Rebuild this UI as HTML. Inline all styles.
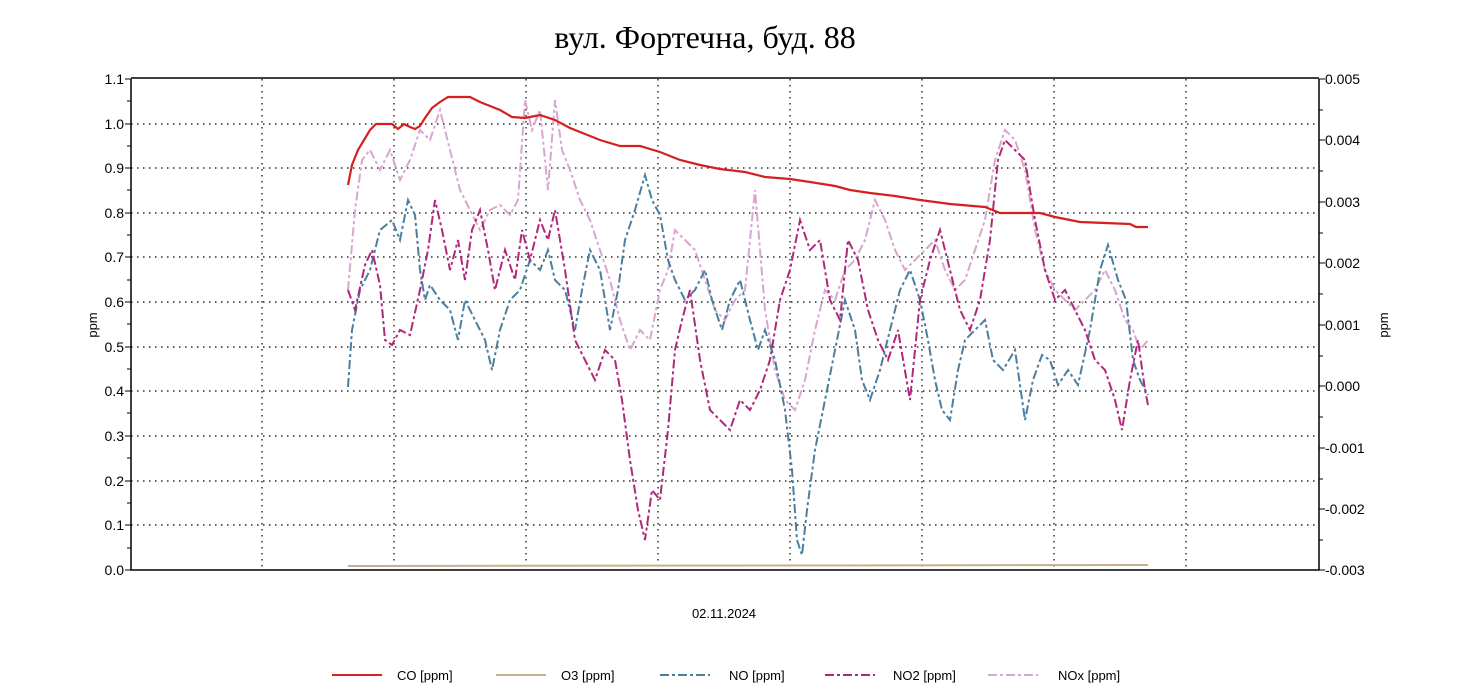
<!DOCTYPE html>
<html><head><meta charset="utf-8"><style>
body{margin:0;background:#fff;}
svg{display:block;font-family:"Liberation Sans",sans-serif;}
</style></head><body>
<svg width="1471" height="697" viewBox="0 0 1471 697">
<text x="705" y="48" text-anchor="middle" font-family="Liberation Serif,serif" font-size="32">вул. Фортечна, буд. 88</text>
<g stroke="#000" stroke-width="1.2" stroke-dasharray="1.5,4.5">
<line x1="262" y1="79" x2="262" y2="570"/><line x1="394" y1="79" x2="394" y2="570"/><line x1="526" y1="79" x2="526" y2="570"/><line x1="658" y1="79" x2="658" y2="570"/><line x1="790" y1="79" x2="790" y2="570"/><line x1="922" y1="79" x2="922" y2="570"/><line x1="1054" y1="79" x2="1054" y2="570"/><line x1="1186" y1="79" x2="1186" y2="570"/>
<line x1="131" y1="124" x2="1318" y2="124"/><line x1="131" y1="168" x2="1318" y2="168"/><line x1="131" y1="213" x2="1318" y2="213"/><line x1="131" y1="257" x2="1318" y2="257"/><line x1="131" y1="302" x2="1318" y2="302"/><line x1="131" y1="347" x2="1318" y2="347"/><line x1="131" y1="391" x2="1318" y2="391"/><line x1="131" y1="436" x2="1318" y2="436"/><line x1="131" y1="481" x2="1318" y2="481"/><line x1="131" y1="525" x2="1318" y2="525"/>
</g>
<g stroke="#000" stroke-width="1.5" fill="none">
<polyline points="131,79 131,570 1319,570 1319,79"/>
<line x1="131" y1="78" x2="1319" y2="78"/>
</g>
<g stroke="#000" stroke-width="1">
<line x1="125" y1="79" x2="131" y2="79"/><line x1="127" y1="101" x2="131" y2="101"/><line x1="125" y1="124" x2="131" y2="124"/><line x1="127" y1="146" x2="131" y2="146"/><line x1="125" y1="168" x2="131" y2="168"/><line x1="127" y1="190" x2="131" y2="190"/><line x1="125" y1="213" x2="131" y2="213"/><line x1="127" y1="235" x2="131" y2="235"/><line x1="125" y1="257" x2="131" y2="257"/><line x1="127" y1="280" x2="131" y2="280"/><line x1="125" y1="302" x2="131" y2="302"/><line x1="127" y1="324" x2="131" y2="324"/><line x1="125" y1="347" x2="131" y2="347"/><line x1="127" y1="369" x2="131" y2="369"/><line x1="125" y1="391" x2="131" y2="391"/><line x1="127" y1="413" x2="131" y2="413"/><line x1="125" y1="436" x2="131" y2="436"/><line x1="127" y1="458" x2="131" y2="458"/><line x1="125" y1="481" x2="131" y2="481"/><line x1="127" y1="503" x2="131" y2="503"/><line x1="125" y1="525" x2="131" y2="525"/><line x1="127" y1="548" x2="131" y2="548"/><line x1="125" y1="570" x2="131" y2="570"/>
<line x1="1319" y1="79" x2="1325" y2="79"/><line x1="1319" y1="110" x2="1323" y2="110"/><line x1="1319" y1="140" x2="1325" y2="140"/><line x1="1319" y1="171" x2="1323" y2="171"/><line x1="1319" y1="202" x2="1325" y2="202"/><line x1="1319" y1="233" x2="1323" y2="233"/><line x1="1319" y1="263" x2="1325" y2="263"/><line x1="1319" y1="294" x2="1323" y2="294"/><line x1="1319" y1="325" x2="1325" y2="325"/><line x1="1319" y1="356" x2="1323" y2="356"/><line x1="1319" y1="386" x2="1325" y2="386"/><line x1="1319" y1="417" x2="1323" y2="417"/><line x1="1319" y1="448" x2="1325" y2="448"/><line x1="1319" y1="479" x2="1323" y2="479"/><line x1="1319" y1="509" x2="1325" y2="509"/><line x1="1319" y1="540" x2="1323" y2="540"/><line x1="1319" y1="570" x2="1325" y2="570"/>
</g>
<g font-size="14" text-anchor="end">
<text x="124" y="84">1.1</text><text x="124" y="129">1.0</text><text x="124" y="173">0.9</text><text x="124" y="218">0.8</text><text x="124" y="262">0.7</text><text x="124" y="307">0.6</text><text x="124" y="352">0.5</text><text x="124" y="396">0.4</text><text x="124" y="441">0.3</text><text x="124" y="486">0.2</text><text x="124" y="530">0.1</text><text x="124" y="575">0.0</text>
</g>
<g font-size="14">
<text x="1325" y="84">0.005</text><text x="1325" y="145">0.004</text><text x="1325" y="207">0.003</text><text x="1325" y="268">0.002</text><text x="1325" y="330">0.001</text><text x="1325" y="391">0.000</text><text x="1325" y="453">-0.001</text><text x="1325" y="514">-0.002</text><text x="1325" y="575">-0.003</text>
</g>
<text x="97" y="325" font-size="13" text-anchor="middle" transform="rotate(-90 97 325)">ppm</text>
<text x="1388" y="325" font-size="13" text-anchor="middle" transform="rotate(-90 1388 325)">ppm</text>
<text x="724" y="618" font-size="13" text-anchor="middle">02.11.2024</text>
<line x1="348" y1="566" x2="1148" y2="565" stroke="#c8b08c" stroke-width="2"/>
<polyline fill="none" stroke="#d8a6d0" stroke-width="2" stroke-dasharray="9,3,3,3" points="348,290 355,210 362,160 370,150 380,170 390,150 400,180 410,160 420,130 430,140 440,110 450,150 460,190 470,210 480,230 490,210 500,205 510,215 518,200 525,100 532,130 540,110 548,190 555,100 562,150 570,170 580,200 590,220 600,250 610,280 620,320 630,350 640,330 650,340 660,290 668,270 675,230 685,240 695,250 705,280 715,310 725,320 735,300 745,290 755,190 765,310 775,370 785,400 795,410 805,380 815,330 825,290 835,300 845,270 855,260 865,240 875,200 885,220 895,250 905,270 915,260 925,250 935,240 945,270 955,290 965,280 975,250 985,220 995,160 1005,130 1015,140 1025,170 1035,230 1045,270 1055,290 1065,300 1075,310 1085,300 1095,290 1105,270 1115,290 1125,320 1133,330 1140,350 1148,340"/>
<polyline fill="none" stroke="#4a7fa0" stroke-width="2" stroke-dasharray="9,3,3,3" points="348,387 352,330 360,290 370,270 380,230 392,220 400,240 408,200 415,215 420,270 425,300 430,285 440,300 450,310 458,340 465,300 475,320 485,340 492,370 500,330 510,300 520,290 530,260 540,270 548,250 555,280 565,290 575,330 582,290 590,250 600,270 610,330 618,290 625,240 635,210 645,175 652,200 660,215 668,260 675,280 685,300 695,290 705,270 712,300 722,330 730,300 740,280 750,320 758,350 765,330 775,360 785,410 792,470 797,540 802,555 807,510 815,450 825,400 835,350 845,300 855,330 862,380 870,400 880,370 890,330 900,290 910,270 920,300 928,340 935,380 942,410 950,420 958,370 965,340 975,330 985,320 993,360 1003,370 1015,350 1025,420 1033,380 1042,355 1050,360 1058,385 1068,370 1078,385 1090,330 1100,270 1108,245 1118,280 1126,300 1133,360 1140,380 1148,395"/>
<polyline fill="none" stroke="#b0287a" stroke-width="2" stroke-dasharray="9,3,3,3" points="348,290 355,310 365,265 372,250 380,285 385,340 392,345 400,330 410,335 420,290 428,250 435,200 442,230 450,270 458,240 465,280 472,230 480,210 488,250 495,290 505,250 515,280 522,230 530,260 540,220 548,240 555,210 565,270 575,340 585,360 595,380 605,350 615,360 622,400 630,460 638,510 645,540 652,490 660,500 668,430 675,350 682,320 690,290 700,360 710,410 720,420 730,430 740,400 750,410 760,390 770,360 780,300 790,270 800,220 810,250 820,240 830,300 840,320 848,240 858,260 868,310 878,340 888,360 898,330 910,400 920,300 930,260 940,230 950,270 960,310 970,330 980,300 990,240 998,160 1005,140 1015,150 1025,160 1035,220 1045,270 1055,300 1065,290 1075,310 1085,330 1095,360 1105,370 1115,400 1122,430 1130,380 1138,340 1145,390 1148,405"/>
<polyline fill="none" stroke="#d42020" stroke-width="2.2" points="348,185 352,165 358,150 364,140 370,130 376,124 392,124 398,129 404,124 410,127 415,129 420,126 425,118 432,108 440,102 448,97 458,97 470,97 480,102 490,106 500,110 512,117 525,118 540,115 555,120 570,128 585,134 600,140 620,146 640,146 660,152 680,160 700,165 720,169 745,172 765,177 790,179 810,182 835,186 850,190 870,193 895,196 920,200 950,204 985,207 1000,213 1040,213 1055,217 1080,222 1130,224 1136,227 1148,227"/>
<g stroke-width="2">
<line x1="332" y1="675" x2="382" y2="675" stroke="#d42020"/>
<line x1="496" y1="675" x2="546" y2="675" stroke="#c8b08c"/>
<line x1="660" y1="675" x2="710" y2="675" stroke="#4a7fa0" stroke-dasharray="9,3,3,3"/>
<line x1="825" y1="675" x2="875" y2="675" stroke="#b0287a" stroke-dasharray="9,3,3,3"/>
<line x1="988" y1="675" x2="1038" y2="675" stroke="#d8a6d0" stroke-dasharray="9,3,3,3"/>
</g>
<g font-size="13">
<text x="397" y="680">CO [ppm]</text><text x="561" y="680">O3 [ppm]</text><text x="729" y="680">NO [ppm]</text><text x="893" y="680">NO2 [ppm]</text><text x="1058" y="680">NOx [ppm]</text>
</g>
</svg>
</body></html>
